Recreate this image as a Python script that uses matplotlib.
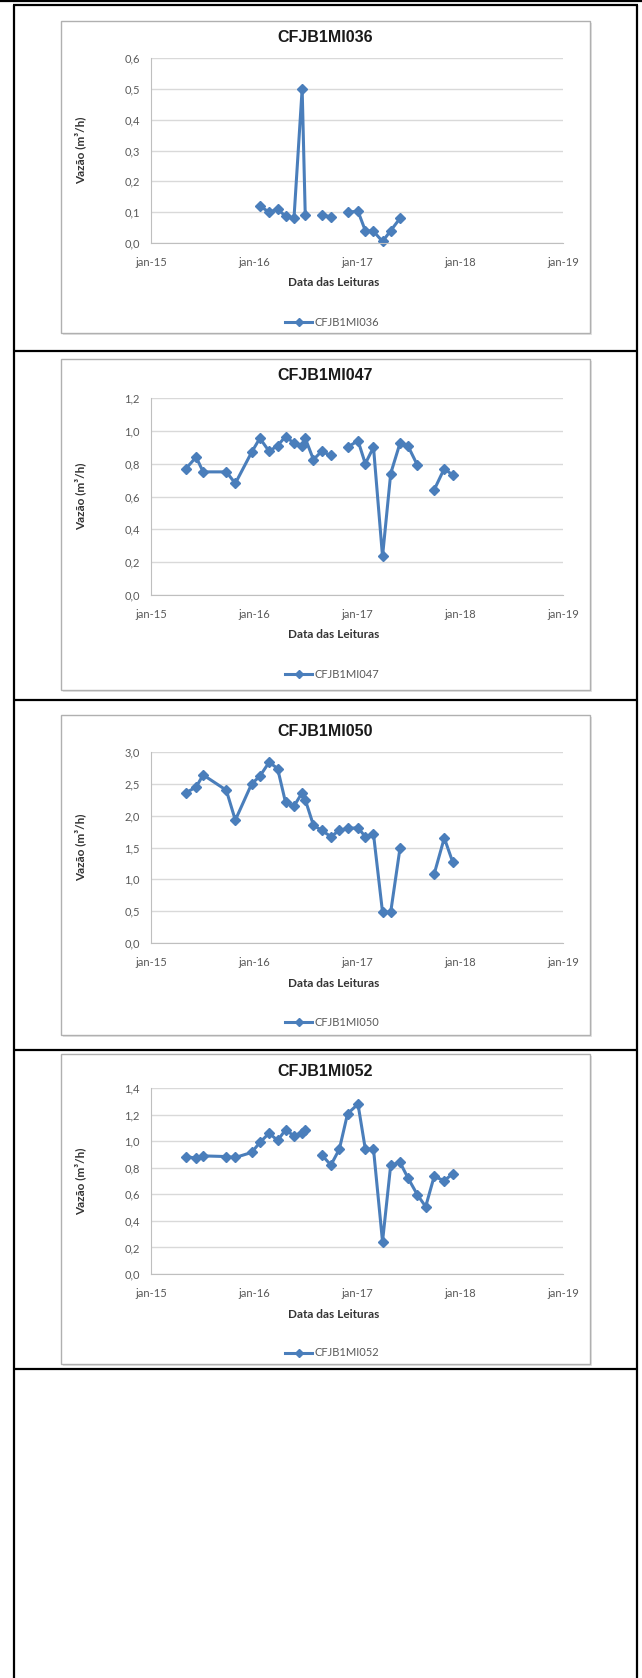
import matplotlib
matplotlib.use('Agg')
import matplotlib.pyplot as plt
from matplotlib.patches import Rectangle
from matplotlib.lines import Line2D
import numpy as np
import pandas as pd

nan = np.nan

# datas das leituras (comuns aos quatro medidores)
datas = pd.to_datetime([
    '2015-05-05', '2015-06-10', '2015-07-05', '2015-09-25', '2015-10-27',
    '2015-12-24', '2016-01-22', '2016-02-24', '2016-03-25', '2016-04-22',
    '2016-05-22', '2016-06-20', '2016-07-01', '2016-07-30', '2016-08-28',
    '2016-09-30', '2016-10-30', '2016-11-28', '2017-01-04', '2017-01-30',
    '2017-02-28', '2017-04-01', '2017-04-30', '2017-06-02', '2017-07-01',
    '2017-08-03', '2017-09-01', '2017-10-01', '2017-11-06', '2017-12-06',
])

vazao_036 = [nan, nan, nan, nan, nan,
             nan, 0.12, 0.10, 0.11, 0.087,
             0.08, 0.50, 0.09, nan, 0.09,
             0.085, nan, 0.10, 0.103, 0.04,
             0.038, 0.005, 0.04, 0.08, nan,
             nan, nan, nan, nan, nan]

vazao_047 = [0.77, 0.84, 0.75, 0.75, 0.68,
             0.87, 0.955, 0.875, 0.91, 0.965,
             0.925, 0.905, 0.955, 0.825, 0.875,
             0.85, nan, 0.90, 0.94, 0.80,
             0.90, 0.235, 0.74, 0.925, 0.905,
             0.79, nan, 0.64, 0.77, 0.73]

vazao_050 = [2.36, 2.45, 2.64, 2.40, 1.93,
             2.50, 2.62, 2.84, 2.74, 2.21,
             2.15, 2.36, 2.25, 1.85, 1.77,
             1.67, 1.77, 1.80, 1.81, 1.67,
             1.71, 0.485, 0.485, 1.49, nan,
             nan, nan, 1.08, 1.65, 1.27]

vazao_052 = [0.884, 0.872, 0.889, 0.884, 0.877,
             0.915, 0.99, 1.06, 1.005, 1.085,
             1.04, 1.065, 1.085, nan, 0.897,
             0.82, 0.94, 1.206, 1.279, 0.94,
             0.94, 0.244, 0.82, 0.84, 0.72,
             0.595, 0.507, 0.734, 0.703, 0.754]

medidores = ['CFJB1MI036', 'CFJB1MI047', 'CFJB1MI050', 'CFJB1MI052']
series = [vazao_036, vazao_047, vazao_050, vazao_052]
y_max = [0.6, 1.2, 3.0, 1.4]
y_passo = [0.1, 0.2, 0.5, 0.2]

anos_x = pd.to_datetime(['2015-01-01', '2016-01-01', '2017-01-01', '2018-01-01', '2019-01-01'])
rotulos_x = ['jan-15', 'jan-16', 'jan-17', 'jan-18', 'jan-19']

W, H = 642, 1678
AZUL = '#4A7EBB'
CINZA_TXT = '#595959'
FONTE = ['Lato', 'DejaVu Sans']

# posicoes em pixels: painel e area de plotagem
paineis = [(61, 21, 590, 333), (61, 359, 590, 690), (61, 715, 590, 1035), (61, 1054, 590, 1364)]
areas = [(151, 58, 563, 243), (151, 398, 563, 595), (151, 752, 563, 943), (151, 1088, 563, 1274)]
separadores = [351, 700, 1050, 1369]


def fx(x):
    return x / W


def fy(y):
    return 1 - y / H


fig = plt.figure(figsize=(W / 100, H / 100), dpi=100)

# tabela externa
def linha(x0, y0, x1, y1, lw=1.6):
    fig.add_artist(Line2D([fx(x0), fx(x1)], [fy(y0), fy(y1)], color='black', lw=lw,
                          transform=fig.transFigure, solid_capstyle='butt', zorder=5))

linha(0, 1, W, 1)
linha(13, 5, 638, 5)
linha(14, 5, 14, H)
linha(637, 5, 637, H)
for s in separadores:
    linha(14, s, 637, s)

for i in range(4):
    px0, py0, px1, py1 = paineis[i]
    ax0, ay0, ax1, ay1 = areas[i]

    # sombra e moldura do painel
    fig.add_artist(Rectangle((fx(px0 + 2), fy(py1 + 2)), (px1 - px0) / W, (py1 - py0) / H,
                             transform=fig.transFigure, facecolor='#E3E3E3', edgecolor='none', zorder=-3))
    fig.add_artist(Rectangle((fx(px0), fy(py1)), (px1 - px0) / W, (py1 - py0) / H,
                             transform=fig.transFigure, facecolor='white', edgecolor='#B0B0B0', lw=1.0,
                             zorder=-2))

    ax = fig.add_axes([fx(ax0), fy(ay1), (ax1 - ax0) / W, (ay1 - ay0) / H])
    ax.set_facecolor('none')
    ax.plot(datas, series[i], color=AZUL, lw=2.2, marker='D', ms=5.5, mec=AZUL, mfc=AZUL, clip_on=False)

    ax.set_xlim(anos_x[0], anos_x[-1])
    ax.set_ylim(0, y_max[i])
    ax.set_xticks(anos_x)
    ax.set_xticklabels(rotulos_x, family=FONTE, fontsize=8, color=CINZA_TXT)
    yt = np.arange(0, y_max[i] + y_passo[i] / 2, y_passo[i])
    ax.set_yticks(yt)
    ax.set_yticklabels([f'{v:.1f}'.replace('.', ',') for v in yt], family=FONTE, fontsize=8, color=CINZA_TXT)
    ax.tick_params(axis='x', length=0, pad=10)
    ax.tick_params(axis='y', length=0, pad=8)
    ax.grid(axis='y', color='#D9D9D9', lw=1.0)
    ax.set_axisbelow(True)
    for lado in ['top', 'right']:
        ax.spines[lado].set_visible(False)
    ax.spines['left'].set_color('#BFBFBF')
    ax.spines['bottom'].set_color('#BFBFBF')

    fig.text(fx((px0 + px1) / 2), fy(py0 + 17), medidores[i], ha='center', va='center',
             family='Liberation Sans', fontweight='bold', fontsize=11.5, color='#1A1A1A')
    fig.text(fx(334), fy(ay1 + 40), 'Data das Leituras', ha='center', va='center',
             family=FONTE, fontweight='bold', fontsize=8.5, color='#333333')
    fig.text(fx(80), fy((ay0 + ay1) / 2), 'Vazão (m³/h)', ha='center', va='center', rotation=90,
             family=FONTE, fontweight='bold', fontsize=8.5, color='#333333')

    h = Line2D([], [], color=AZUL, lw=2.2, marker='D', ms=4.5)
    fig.legend([h], [medidores[i]], loc='center', bbox_to_anchor=(fx(332), fy(ay1 + 79)),
               frameon=False, handlelength=2.4, handletextpad=0.2,
               prop={'family': FONTE, 'size': 8}, labelcolor=CINZA_TXT)

fig.savefig('out.png', dpi=100)
